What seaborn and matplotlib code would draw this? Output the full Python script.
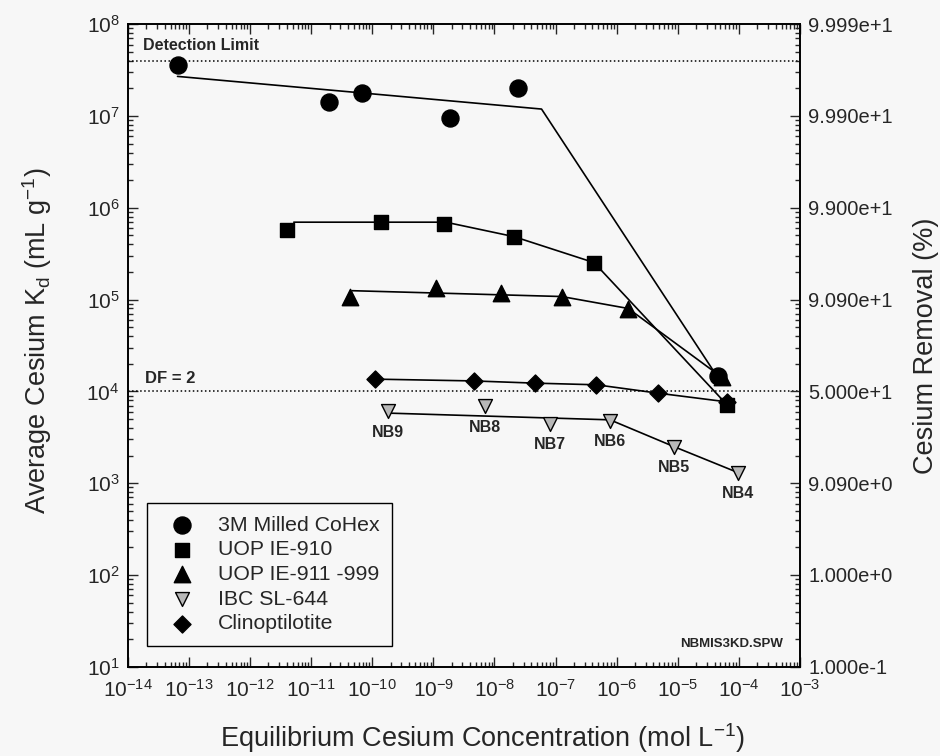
import numpy as np
import pandas as pd
import seaborn as sns
import matplotlib.pyplot as plt

# values (x: mol/L, y: Kd mL/g)
cohex_x = [6.5e-14, 1.95e-11, 6.8e-11, 1.9e-9, 2.4e-8, 4.6e-5]
cohex_kd = [3.6e7, 1.43e7, 1.79e7, 9.5e6, 2.0e7, 1.48e4]
cohex_fit_x = [6.5e-14, 5.9e-8, 3.9e-5]
cohex_fit_kd = [2.7e7, 1.19e7, 1.65e4]

ie910_x = [4.0e-12, 1.41e-10, 1.51e-9, 2.09e-8, 4.27e-7, 6.3e-5]
ie910_kd = [5.7e5, 7.07e5, 6.67e5, 4.85e5, 2.53e5, 7.15e3]
ie910_fit_x = [5.2e-12, 1.6e-9, 2.09e-8, 4.27e-7, 6.1e-5]
ie910_fit_kd = [6.97e5, 6.97e5, 4.85e5, 2.53e5, 7.4e3]

ie911_x = [4.27e-11, 1.1e-9, 1.26e-8, 1.26e-7, 1.55e-6, 5.25e-5]
ie911_kd = [1.08e5, 1.33e5, 1.19e5, 1.06e5, 7.9e4, 1.45e4]
ie911_fit_x = [4.7e-11, 1.26e-7, 1.55e-6, 3.9e-5]
ie911_fit_kd = [1.25e5, 1.08e5, 8.0e4, 1.65e4]

ibc_x = [1.82e-10, 7.08e-9, 8.1e-8, 7.8e-7, 8.7e-6, 9.8e-5]
ibc_kd = [6.04e3, 6.86e3, 4.4e3, 4.79e3, 2.48e3, 1.29e3]
ibc_fit_x = [1.82e-10, 7.8e-7, 8.7e-6, 9.8e-5]
ibc_fit_kd = [5.8e3, 4.9e3, 2.5e3, 1.3e3]
ibc_names = ['NB9', 'NB8', 'NB7', 'NB6', 'NB5', 'NB4']

clino_x = [1.1e-10, 4.57e-9, 4.57e-8, 4.68e-7, 4.79e-6, 6.3e-5]
clino_kd = [1.36e4, 1.30e4, 1.23e4, 1.18e4, 9.56e3, 7.7e3]

right_ticks = [1e1, 1e2, 1e3, 1e4, 1e5, 1e6, 1e7, 1e8]
right_labels = ['1.000e-1', '1.000e+0', '9.090e+0', '5.000e+1',
                '9.090e+1', '9.900e+1', '9.990e+1', '9.999e+1']

bg = '#f7f7f7'
sns.set_style('ticks')
plt.rcParams['font.family'] = ['Liberation Sans', 'DejaVu Sans']
plt.rcParams['mathtext.fontset'] = 'custom'
plt.rcParams['mathtext.rm'] = 'Liberation Sans'
plt.rcParams['mathtext.it'] = 'Liberation Sans:italic'
plt.rcParams['mathtext.bf'] = 'Liberation Sans:bold'

fig, ax = plt.subplots(figsize=(9.4, 7.56), dpi=100)
fig.patch.set_facecolor(bg)
ax.set_facecolor(bg)
fig.subplots_adjust(left=0.136, right=0.851, bottom=0.118, top=0.968)
ax.set_xscale('log')
ax.set_yscale('log')
ax.set_xlim(1e-14, 1e-3)
ax.set_ylim(1e1, 1e8)

ax.axhline(4e7, color='k', ls=':', lw=1.1)
ax.axhline(1e4, color='k', ls=':', lw=1.1)

fits = [(cohex_fit_x, cohex_fit_kd), (ie910_fit_x, ie910_fit_kd),
        (ie911_fit_x, ie911_fit_kd), (ibc_fit_x, ibc_fit_kd),
        (clino_x, clino_kd)]
for fx, fy in fits:
    sns.lineplot(x=fx, y=fy, sort=False, estimator=None, color='k', lw=1.2, ax=ax)

series = [
    ('3M Milled CoHex', cohex_x, cohex_kd, 'o', 150, 'k'),
    ('UOP IE-910', ie910_x, ie910_kd, 's', 100, 'k'),
    ('UOP IE-911 -999', ie911_x, ie911_kd, '^', 140, 'k'),
    ('IBC SL-644', ibc_x, ibc_kd, 'v', 100, '#b8b8b8'),
    ('Clinoptilotite', clino_x, clino_kd, 'D', 75, 'k'),
]
for name, xs, ys, m, s, c in series:
    sns.scatterplot(x=xs, y=ys, marker=m, s=s, color=c, edgecolor='k',
                    linewidth=1.0, label=name, ax=ax, zorder=3)

for name, xv, yv in zip(ibc_names, ibc_x, ibc_kd):
    ax.annotate(name, (xv, yv), xytext=(0, -15), textcoords='offset points',
                ha='center', va='center', fontsize=11.5, fontweight='bold')

ax.text(0.022, 0.967, 'Detection Limit', transform=ax.transAxes,
        fontsize=11.5, fontweight='bold', va='center', ha='left')
ax.text(0.025, 0.449, 'DF = 2', transform=ax.transAxes,
        fontsize=12, fontweight='bold', va='center', ha='left')
ax.text(0.898, 0.036, 'NBMIS3KD.SPW', transform=ax.transAxes,
        fontsize=9.5, fontweight='bold', va='center', ha='center')

ax.xaxis.set_major_locator(plt.LogLocator(base=10, numticks=20))
ax.xaxis.set_minor_locator(plt.LogLocator(base=10, subs=np.arange(2, 10), numticks=20))
ax.xaxis.set_minor_formatter(plt.NullFormatter())
ax.yaxis.set_major_locator(plt.LogLocator(base=10, numticks=20))
ax.yaxis.set_minor_locator(plt.LogLocator(base=10, subs=np.arange(2, 10), numticks=20))
ax.yaxis.set_minor_formatter(plt.NullFormatter())
ax.tick_params(which='both', direction='in', top=True, right=False, width=1.0)
ax.tick_params(which='major', length=7, labelsize=15, pad=6)
ax.tick_params(axis='x', which='major', pad=9)
ax.tick_params(which='minor', length=3.5)

ax2 = ax.twinx()
ax2.set_yscale('log')
ax2.set_ylim(ax.get_ylim())
ax2.set_yticks(right_ticks)
ax2.set_yticklabels(right_labels)
ax2.yaxis.set_minor_locator(plt.LogLocator(base=10, subs=np.arange(2, 10), numticks=20))
ax2.yaxis.set_minor_formatter(plt.NullFormatter())
ax2.tick_params(which='both', direction='in', width=1.0)
ax2.tick_params(which='major', length=7, labelsize=14.5, pad=6)
ax2.tick_params(which='minor', length=3.5)
ax2.set_ylabel('Cesium Removal (%)', fontsize=19.5)
ax2.yaxis.set_label_coords(1.168, 0.5)

for a in (ax, ax2):
    for sp in a.spines.values():
        sp.set_linewidth(1.2)
        sp.set_color('k')

ax.set_xlabel(r'Equilibrium Cesium Concentration (mol L$^{\mathregular{-1}}$)', fontsize=19.5)
ax.set_ylabel(r'Average Cesium K$_{\mathregular{d}}$ (mL g$^{\mathregular{-1}}$)', fontsize=19.5)
ax.xaxis.set_label_coords(0.528, -0.084)
ax.yaxis.set_label_coords(-0.11, 0.508)

leg = ax.legend(loc='lower left', bbox_to_anchor=(0.028, 0.032), fontsize=15.3,
                frameon=True, fancybox=False, edgecolor='k', facecolor=bg,
                framealpha=1, handletextpad=0.65, labelspacing=0.27,
                borderpad=0.6, handlelength=2.1, borderaxespad=0)
leg.get_frame().set_linewidth(1.0)

fig.savefig('out.png', dpi=100, facecolor=bg)
